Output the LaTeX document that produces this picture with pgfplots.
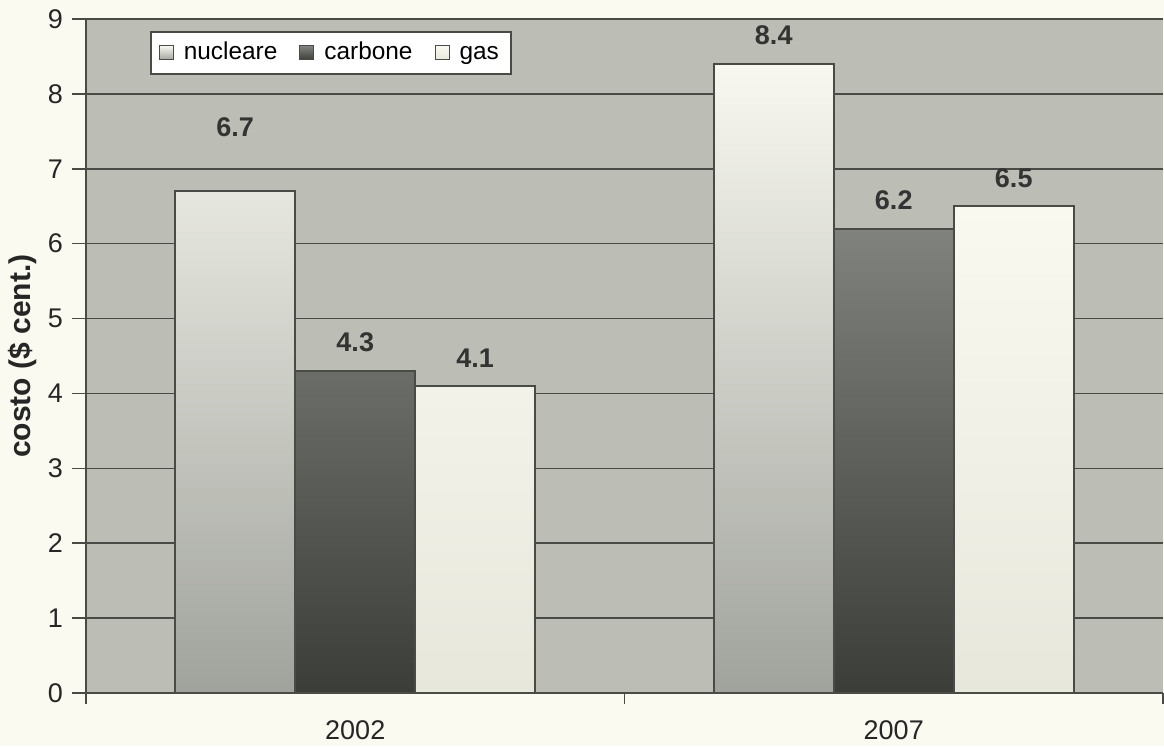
\documentclass[border=0pt]{standalone}
\usepackage{pgfplots}
\usepackage{pgfplotstable}
\pgfplotsset{compat=1.18}
\usepackage{fontspec}
\setmainfont{Liberation Sans}
\definecolor{bgout}{RGB}{251,250,240}
\definecolor{plotbg}{RGB}{188,189,181}
\definecolor{gridc}{RGB}{72,75,70}
\definecolor{nuctop}{RGB}{248,248,240}
\definecolor{nucbot}{RGB}{160,163,156}
\definecolor{cartop}{RGB}{128,131,125}
\definecolor{carbot}{RGB}{58,61,56}
\definecolor{gastop}{RGB}{250,249,240}
\definecolor{gasbot}{RGB}{232,231,220}
\pgfplotstableread{
x y dy
0 6.7 26.7
1 8.4 9
}\nuc
\pgfplotstableread{
x y dy
0 4.3 9
1 6.2 9
}\car
\pgfplotstableread{
x y dy
0 4.1 9
1 6.5 9
}\gas
\begin{document}
\begin{tikzpicture}
\fill[bgout] (-43pt,-26.5pt) rectangle (539pt,346.5pt);
\begin{axis}[
  at={(0,0)}, anchor=south west,
  scale only axis, width=538.5pt, height=337pt,
  xmin=-0.5, xmax=1.5, ymin=0, ymax=9,
  ybar=0pt, bar width=60pt,
  axis background/.style={fill=plotbg},
  axis x line*=bottom, axis y line*=left,
  axis line style={draw=gridc, line width=0.8pt},
  ytick={0,1,...,9},
  ymajorgrids, major grid style={draw=gridc, line width=0.8pt},
  tick align=outside,
  ytick style={draw=gridc, line width=0.8pt},
  major tick length=7pt,
  xtick={0,1}, xticklabels={2002,2007},
  x tick style={draw=none},
  extra x ticks={-0.5,0.5,1.5}, extra x tick labels={},
  extra x tick style={x tick style={draw=gridc, line width=0.8pt}, major tick length=5.5pt},
  tick label style={font=\fontsize{13.5}{15}\selectfont, text=black!85},
  xticklabel style={yshift=-3.5pt},
  yticklabel style={xshift=-1pt},
  /pgf/number format/assume math mode=true,
  ylabel={costo (\$ cent.)},
  ylabel style={font=\bfseries\fontsize{15}{17}\selectfont, at={(axis description cs:-0.0594,0.5)}, anchor=center, rotate=0, text=black!85},
  nodes near coords,
  nodes near coords style={font=\bfseries\fontsize{13.5}{15}\selectfont, text=black!80, inner sep=0pt, anchor=south, yshift=\dy pt,
    /pgf/number format/.cd, fixed, precision=1, fixed zerofill},
  visualization depends on={\thisrow{dy}\as\dy},
  legend columns=3,
  legend style={at={(axis description cs:0.0594,0.982)}, anchor=north west,
    draw=gridc, line width=0.8pt, fill=white, font=\fontsize{12.2}{14}\selectfont,
    inner xsep=4pt, inner ysep=2.5pt,
    nodes={text depth=2.8pt, text height=9.2pt, inner xsep=2pt},
    /tikz/every odd column/.append style={column sep=3pt},
    /tikz/every even column/.append style={column sep=9pt}},
  legend image code/.code={\draw[#1, line width=0.5pt] (0pt,-3.5pt) rectangle (7pt,3.5pt);},
]
\addplot[draw=gridc, line width=0.8pt, top color=nuctop, bottom color=nucbot] table[x=x,y=y] {\nuc};
\addlegendentry{nucleare}
\addplot[draw=gridc, line width=0.8pt, top color=cartop, bottom color=carbot] table[x=x,y=y] {\car};
\addlegendentry{carbone}
\addplot[draw=gridc, line width=0.8pt, top color=gastop, bottom color=gasbot] table[x=x,y=y] {\gas};
\addlegendentry{gas}
\end{axis}
\pgfresetboundingbox
\path (-43pt,-26.5pt) rectangle (539pt,346.5pt);
\end{tikzpicture}
\end{document}
